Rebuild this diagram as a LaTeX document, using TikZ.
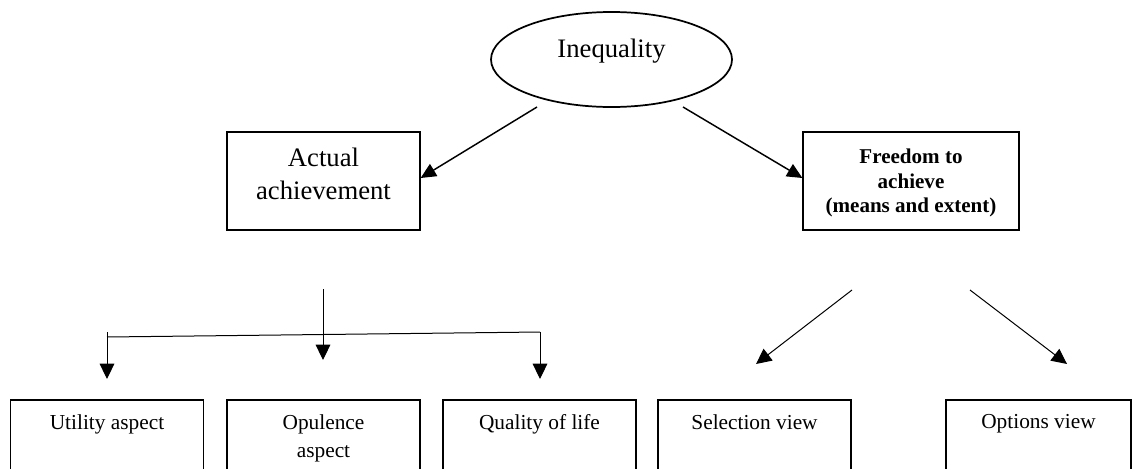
\documentclass[tikz,border=0pt]{standalone}
\usepackage{fontspec}
\setmainfont{Liberation Serif}
\usetikzlibrary{shapes.geometric,arrows.meta}
\tikzset{
  px/.style={x=0.75pt,y=-0.75pt},
  box/.style={draw, rectangle, line width=0.9pt, inner sep=0pt},
  bigtxt/.style={font=\fontsize{20}{24.75}\selectfont, align=center, inner sep=0pt},
  boldtxt/.style={font=\bfseries\fontsize{15.8}{18.2}\selectfont, align=center, inner sep=0pt},
  smalltxt/.style={font=\fontsize{16}{21}\selectfont, align=center, inner sep=0pt},
  lowlbl/.style={smalltxt, anchor=north, yshift=-11pt},
  arrA/.style={line width=1.1pt, -{Triangle[length=11.5pt,width=10.5pt]}},
  arrB/.style={line width=0.75pt, -{Triangle[length=11.5pt,width=11pt]}},
  lineB/.style={line width=0.75pt},
  bottombox/.style={box, minimum width=144.75pt, minimum height=60pt},
}
\begin{document}
\begin{tikzpicture}[px]
\useasboundingbox (0,0) rectangle (1134,468);
\clip (0,0) rectangle (1134,468);

% top ellipse
\node[draw, ellipse, line width=1.3pt, minimum width=180.75pt, minimum height=71.25pt, inner sep=0pt,
      label={[bigtxt, yshift=6pt]center:Inequality}] (ineq) at (611.5,59.5) {};

% second level
\node[box, minimum width=144.75pt, minimum height=73.5pt,
      label={[bigtxt, yshift=5pt]center:Actual\\achievement}] (act) at (323.5,181) {};
\node[box, minimum width=162pt, minimum height=73.5pt,
      label={[boldtxt, yshift=-1.5pt]center:Freedom to\\achieve\\(means and extent)}] (fre) at (911,181) {};

\coordinate (as) at (537,107);
\coordinate (fs) at (683,107);
\draw[arrA] (as) -- ([yshift=2.25pt]act.east);
\draw[arrA] (fs) -- ([yshift=2.25pt]fre.west);

% bottom boxes
\node[bottombox, label={[lowlbl]north:Utility aspect}] (util) at (107,440) {};
\node[bottombox, label={[lowlbl]north:Opulence\\aspect}] (opul) at (323.5,440) {};
\node[bottombox, label={[lowlbl]north:Quality of life}] (qual) at (539.5,440) {};
\node[bottombox, label={[lowlbl]north:Selection view}] (sel) at (754.5,440) {};
\node[box, minimum width=138.75pt, minimum height=60pt, label={[lowlbl]north:Options view}] (opt) at (1038.5,440) {};

% left branch connectors
\coordinate (m0) at (323,289);
\coordinate (m1) at (323,360);
\coordinate (l0) at (107,332);
\coordinate (hl) at (107,337);
\coordinate (hr) at (540,332);
\coordinate (l1) at (107,379);
\coordinate (r1) at (540,379);
\draw[arrB] (m0) -- (m1);
\draw[lineB] (hl) -- (hr);
\draw[arrB] (l0) -- (l1);
\draw[arrB] (hr) -- (r1);

% right branch connectors
\coordinate (s0) at (852,290);
\coordinate (s1) at (756,364);
\coordinate (o0) at (970,290);
\coordinate (o1) at (1067,364);
\draw[arrB] (s0) -- (s1);
\draw[arrB] (o0) -- (o1);
\end{tikzpicture}
\end{document}
